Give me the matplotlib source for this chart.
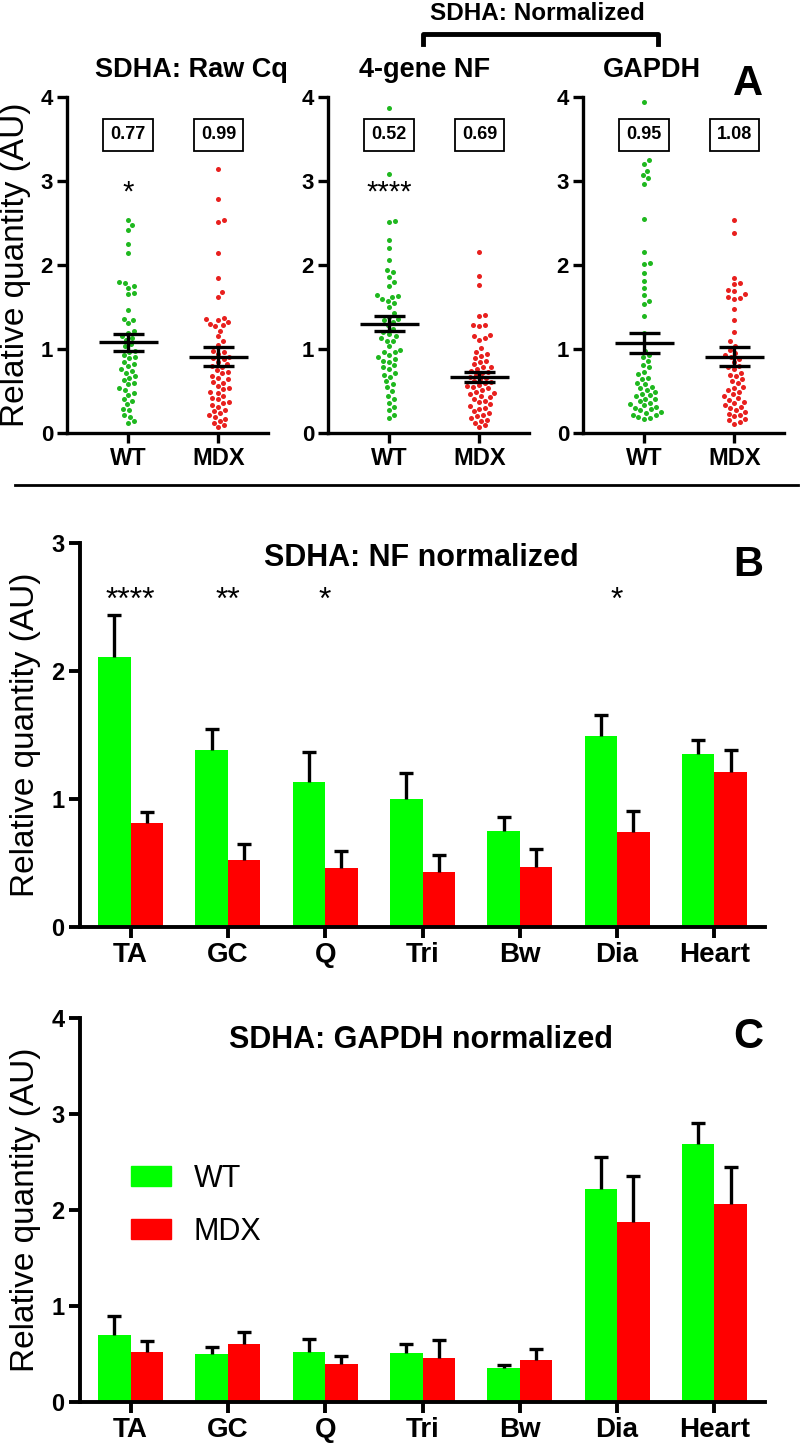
import matplotlib
matplotlib.use("Agg")
import matplotlib.pyplot as plt
from matplotlib.lines import Line2D
from matplotlib.patches import Patch
import numpy as np

plt.rcParams["font.family"] = ["Liberation Sans", "DejaVu Sans"]

# ---- panel A: scatter of individual samples ----
groups = ["WT", "MDX"]
a_titles = ["SDHA: Raw Cq", "4-gene NF", "GAPDH"]
a_boxes = [["0.77", "0.99"], ["0.52", "0.69"], ["0.95", "1.08"]]
a_stars = ["*", "****", ""]

raw_wt = [2.54, 2.48, 2.42, 2.25, 2.14, 1.80, 1.79, 1.75, 1.73, 1.67, 1.65, 1.47, 1.36, 1.35,
          1.31, 1.21, 1.19, 1.16, 1.13, 1.11, 1.06, 1.03, 0.98, 0.97, 0.93, 0.90, 0.89, 0.85,
          0.82, 0.80, 0.76, 0.74, 0.72, 0.68, 0.66, 0.63, 0.60, 0.58, 0.53, 0.51, 0.48, 0.45,
          0.40, 0.38, 0.34, 0.29, 0.27, 0.22, 0.19, 0.14, 0.12]
raw_mdx = [3.14, 2.79, 2.53, 2.51, 2.14, 1.85, 1.68, 1.62, 1.37, 1.36, 1.34, 1.32, 1.30, 1.28,
           1.27, 1.22, 1.15, 1.09, 1.05, 0.98, 0.97, 0.94, 0.91, 0.89, 0.88, 0.85, 0.82, 0.80,
           0.79, 0.75, 0.73, 0.71, 0.68, 0.65, 0.64, 0.61, 0.60, 0.56, 0.54, 0.52, 0.49, 0.48,
           0.44, 0.42, 0.40, 0.37, 0.36, 0.33, 0.31, 0.27, 0.26, 0.24, 0.21, 0.19, 0.17, 0.14,
           0.12, 0.09, 0.07]
nf_wt_pts = [3.87, 3.08, 2.52, 2.51, 2.30, 2.20, 2.06, 1.94, 1.92, 1.86, 1.80, 1.75, 1.64, 1.63,
             1.62, 1.60, 1.57, 1.55, 1.50, 1.43, 1.38, 1.36, 1.34, 1.32, 1.28, 1.24, 1.20, 1.18,
             1.15, 1.13, 1.10, 1.09, 1.03, 0.99, 0.97, 0.96, 0.93, 0.91, 0.88, 0.86, 0.85, 0.81,
             0.78, 0.76, 0.72, 0.69, 0.67, 0.62, 0.58, 0.55, 0.50, 0.44, 0.41, 0.36, 0.31, 0.27,
             0.22, 0.18]
nf_mdx_pts = [2.16, 1.87, 1.76, 1.40, 1.39, 1.29, 1.28, 1.27, 1.17, 1.15, 1.13, 1.11, 1.01, 0.97,
              0.94, 0.92, 0.89, 0.86, 0.84, 0.82, 0.79, 0.78, 0.76, 0.74, 0.73, 0.71, 0.69, 0.67,
              0.66, 0.64, 0.62, 0.61, 0.59, 0.57, 0.56, 0.55, 0.53, 0.51, 0.49, 0.48, 0.46, 0.44,
              0.43, 0.40, 0.38, 0.37, 0.34, 0.32, 0.30, 0.29, 0.26, 0.24, 0.22, 0.20, 0.18, 0.16,
              0.14, 0.12, 0.09, 0.07]
gap_wt_pts = [3.94, 3.25, 3.20, 3.12, 3.07, 3.03, 2.97, 2.55, 2.16, 2.02, 2.01, 1.90, 1.81, 1.73,
              1.64, 1.57, 1.53, 1.39, 1.19, 0.98, 0.93, 0.91, 0.86, 0.81, 0.78, 0.73, 0.70, 0.66,
              0.64, 0.60, 0.58, 0.55, 0.54, 0.51, 0.49, 0.47, 0.45, 0.44, 0.41, 0.40, 0.38, 0.36,
              0.35, 0.33, 0.31, 0.30, 0.28, 0.27, 0.25, 0.24, 0.22, 0.21, 0.19, 0.18, 0.17]
gap_mdx_pts = [2.54, 2.38, 1.85, 1.78, 1.77, 1.70, 1.69, 1.66, 1.62, 1.61, 1.60, 1.48, 1.35, 1.20,
               1.09, 1.04, 0.99, 0.95, 0.93, 0.90, 0.88, 0.84, 0.80, 0.78, 0.76, 0.72, 0.69, 0.68,
               0.64, 0.62, 0.59, 0.55, 0.53, 0.51, 0.49, 0.46, 0.44, 0.42, 0.39, 0.37, 0.36, 0.33,
               0.31, 0.30, 0.27, 0.25, 0.23, 0.21, 0.20, 0.17, 0.15, 0.13, 0.11]
a_points = [[raw_wt, raw_mdx], [nf_wt_pts, nf_mdx_pts], [gap_wt_pts, gap_mdx_pts]]
a_means = [[1.08, 0.91], [1.30, 0.67], [1.07, 0.91]]
a_sems = [[0.10, 0.11], [0.09, 0.06], [0.12, 0.11]]

# ---- panels B and C: mean + SEM bars ----
muscles = ["TA", "GC", "Q", "Tri", "Bw", "Dia", "Heart"]
nf_wt = [2.11, 1.38, 1.13, 1.00, 0.75, 1.49, 1.35]
nf_wt_sem = [0.33, 0.17, 0.24, 0.20, 0.11, 0.17, 0.11]
nf_mdx = [0.81, 0.52, 0.46, 0.43, 0.47, 0.74, 1.21]
nf_mdx_sem = [0.09, 0.13, 0.13, 0.13, 0.14, 0.17, 0.17]
nf_stars = ["****", "**", "*", "", "", "*", ""]

gapdh_wt = [0.70, 0.50, 0.52, 0.51, 0.35, 2.22, 2.69]
gapdh_wt_sem = [0.20, 0.07, 0.14, 0.09, 0.035, 0.33, 0.22]
gapdh_mdx = [0.52, 0.60, 0.40, 0.46, 0.44, 1.87, 2.06]
gapdh_mdx_sem = [0.115, 0.13, 0.08, 0.19, 0.11, 0.48, 0.39]

W, H = 800, 1447
fig = plt.figure(figsize=(W / 100, H / 100), dpi=100)


def fx(px):
    return px / W


def fy(py):
    return 1 - py / H


def swarm(vals, d, ypx, xpx):
    # simple beeswarm: offsets (data units) so that dots don't overlap
    vals = np.asarray(vals)
    cands = [0.0]
    for k in range(1, 80):
        cands += [k * 0.5, -k * 0.5]
    placed = []
    offs = np.zeros(len(vals))
    for i in np.argsort(vals):
        y = vals[i] * ypx
        for c in cands:
            if all((c - px) ** 2 + (y - py) ** 2 >= d * d for px, py in placed):
                placed.append((c, y))
                offs[i] = c / xpx
                break
    return offs


green_dot, red_dot = "#1fb81f", "#e8201e"

# panel A
a_left = [67, 328, 583]
a_title_x = [191, 425, 652]
for k in range(3):
    ax = fig.add_axes([fx(a_left[k]), fy(433), 201 / W, 336 / H])
    ax.set_xlim(-0.68, 1.55)
    ax.set_ylim(0, 4)
    for g in range(2):
        vals = np.array(a_points[k][g])
        offs = swarm(vals, 6.0, 84, 90)
        ax.scatter(g + offs, vals, s=13, color=[green_dot, red_dot][g], linewidths=0,
                   zorder=2, clip_on=False)
        m, s = a_means[k][g], a_sems[k][g]
        ax.hlines(m, g - 0.33, g + 0.33, color="k", lw=2.4, zorder=3)
        ax.hlines([m - s, m + s], g - 0.17, g + 0.17, color="k", lw=2.4, zorder=3)
        ax.vlines(g, m - s, m + s, color="k", lw=2.4, zorder=3)
        ax.text(g, 3.55, a_boxes[k][g], ha="center", va="center", fontsize=13,
                fontweight="bold",
                bbox=dict(boxstyle="square,pad=0.4", fc="white", ec="k", lw=1.3))
    if a_stars[k]:
        ax.text(0, 2.86, a_stars[k], ha="center", va="center", fontsize=21)
    ax.set_xticks([0, 1])
    ax.set_xticklabels(groups, fontweight="bold")
    ax.set_yticks([0, 1, 2, 3, 4])
    ax.set_yticklabels(["0", "1", "2", "3", "4"], fontweight="bold")
    ax.tick_params(width=2.4, length=7, pad=3)
    ax.tick_params(axis="x", labelsize=17)
    ax.tick_params(axis="y", labelsize=16)
    for side in ["top", "right"]:
        ax.spines[side].set_visible(False)
    for side in ["left", "bottom"]:
        ax.spines[side].set_linewidth(2.4)
    fig.text(fx(a_title_x[k]), fy(70), a_titles[k], ha="center", va="center",
             fontsize=19.5, fontweight="bold")

fig.text(fx(16), fy(265), "Relative quantity (AU)", rotation=90, ha="center",
         va="center", fontsize=24)
fig.text(fx(537), fy(13), "SDHA: Normalized", ha="center", va="center",
         fontsize=17.5, fontweight="bold")
fig.add_artist(Line2D([fx(423), fx(423), fx(658), fx(658)], [fy(44), fy(34), fy(34), fy(44)],
                      transform=fig.transFigure, color="k", lw=3.5))
fig.text(fx(748), fy(84), "A", ha="center", va="center", fontsize=30, fontweight="bold")
fig.add_artist(Line2D([fx(15), fx(798)], [fy(485), fy(485)], transform=fig.transFigure,
                      color="k", lw=2))


def sem_bars(ax, xs, means, sems):
    # one-sided (upper) SEM whiskers, as drawn by the original software
    _, caps, _ = ax.errorbar(xs, means, yerr=[np.zeros(len(xs)), sems], fmt="none",
                             ecolor="k", elinewidth=2.4, capsize=4.7, capthick=2.4,
                             zorder=3)
    caps[0].set_visible(False)


def bar_panel(top, bottom, ymax, wt, wt_sem, mdx, mdx_sem, title, title_y, letter, letter_y):
    ax = fig.add_axes([fx(80), fy(bottom), 685 / W, (bottom - top) / H])
    x = np.arange(len(muscles))
    bw = 0.335
    ax.bar(x - bw / 2, wt, bw, color="#00ff00", zorder=2, label="WT")
    ax.bar(x + bw / 2, mdx, bw, color="#ff0000", zorder=2, label="MDX")
    sem_bars(ax, x - bw / 2, wt, wt_sem)
    sem_bars(ax, x + bw / 2, mdx, mdx_sem)
    ax.set_xlim(-0.52, 6.52)
    ax.set_ylim(0, ymax)
    ax.set_xticks(x)
    ax.set_xticklabels(muscles, fontweight="bold")
    ax.set_yticks(range(ymax + 1))
    ax.set_yticklabels([str(v) for v in range(ymax + 1)], fontweight="bold")
    ax.tick_params(width=2.8, length=8, pad=3)
    ax.tick_params(axis="x", labelsize=20)
    ax.tick_params(axis="y", labelsize=17)
    for side in ["top", "right"]:
        ax.spines[side].set_visible(False)
    for side in ["left", "bottom"]:
        ax.spines[side].set_linewidth(2.8)
    fig.text(fx(421), fy(title_y), title, ha="center", va="center", fontsize=22,
             fontweight="bold")
    fig.text(fx(748), fy(letter_y), letter, ha="center", va="center", fontsize=30,
             fontweight="bold")
    fig.text(fx(26), fy((top + bottom) / 2), "Relative quantity (AU)", rotation=90,
             ha="center", va="center", fontsize=24)
    return ax


axb = bar_panel(543, 927, 3, nf_wt, nf_wt_sem, nf_mdx, nf_mdx_sem,
                "SDHA: NF normalized", 558, "B", 565)
for i, st in enumerate(nf_stars):
    if st:
        axb.text(i, 2.55, st, ha="center", va="center", fontsize=23)

axc = bar_panel(1018, 1402, 4, gapdh_wt, gapdh_wt_sem, gapdh_mdx, gapdh_mdx_sem,
                "SDHA: GAPDH normalized", 1040, "C", 1037)
handles = [Patch(color="#00ff00", label="WT"), Patch(color="#ff0000", label="MDX")]
axc.legend(handles=handles, loc="upper left", bbox_to_anchor=(fx(131), fy(1164)),
           bbox_transform=fig.transFigure, frameon=False, fontsize=22, handlelength=1.3,
           handleheight=0.65, handletextpad=0.75, labelspacing=0.75, borderpad=0,
           borderaxespad=0)

fig.savefig("out.png", dpi=100)
